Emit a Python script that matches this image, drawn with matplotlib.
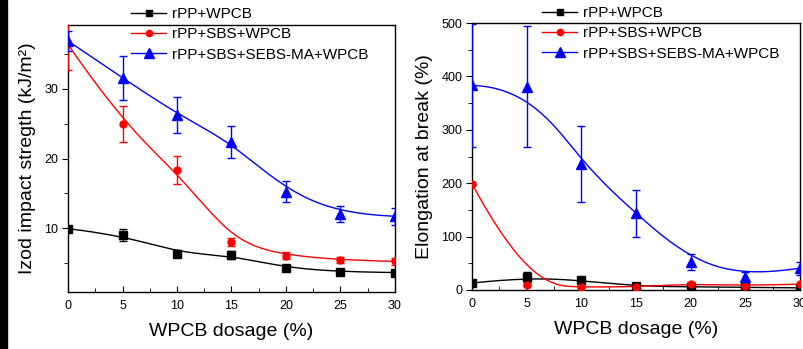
import numpy as np
import matplotlib
matplotlib.use('Agg')
import matplotlib.pyplot as plt
from matplotlib.lines import Line2D
from matplotlib.patches import Rectangle
from matplotlib.ticker import MultipleLocator

plt.rcParams['font.family'] = ['Liberation Sans', 'DejaVu Sans']
plt.rcParams['font.size'] = 10

# data
dosage = [0, 5, 10, 15, 20, 25, 30]
labels = ['rPP+WPCB', 'rPP+SBS+WPCB', 'rPP+SBS+SEBS-MA+WPCB']

impact_pp = [9.9, 9.0, 6.3, 6.1, 4.2, 3.7, 3.6]
impact_pp_err = [0.4, 0.85, 0.5, 0.6, 0.3, 0.3, 0.3]
impact_sbs = [36.4, 25.0, 18.4, 8.0, 6.0, 5.4, 5.2]
impact_sbs_err = [3.7, 2.6, 2.0, 0.6, 0.5, 0.5, 0.5]
impact_sebs = [36.9, 31.6, 26.3, 22.4, 15.2, 12.0, 11.7]
impact_sebs_err = [1.5, 3.2, 2.6, 2.3, 1.5, 1.2, 1.2]

elong_pp = [13, 24, 18, 7, 6, 5, 4]
elong_pp_err = [5, 9, 6, 3, 3, 2, 2]
elong_sbs = [199, 9, 5, 6, 12, 8, 11]
elong_sbs_err = [3, 2, 2, 2, 3, 2, 3]
elong_sebs = [383, 381, 236, 144, 53, 25, 41]
elong_sebs_err = [116, 114, 71, 44, 15, 8, 12]


def bspline(xs, ys, n=300, k=3):
    # Origin style B-spline connection: data points act as control points
    P = np.column_stack([xs, ys]).astype(float)
    m = len(P)
    t = np.concatenate([np.zeros(k), np.arange(m - k + 1), np.full(k, m - k)]).astype(float)
    u = np.linspace(0, m - k - 1e-9, n)
    N = np.array([((t[i] <= u) & (u < t[i + 1])).astype(float) for i in range(len(t) - 1)])
    for d in range(1, k + 1):
        newN = []
        for i in range(len(t) - d - 1):
            a = t[i + d] - t[i]
            b = t[i + d + 1] - t[i + 1]
            left = (u - t[i]) / a * N[i] if a > 0 else 0 * u
            right = (t[i + d + 1] - u) / b * N[i + 1] if b > 0 else 0 * u
            newN.append(left + right)
        N = np.array(newN)
    C = N.T @ P
    C = np.vstack([C, P[-1]])
    return C[:, 0], C[:, 1]


styles = [
    dict(color='black', marker='s', ms=5.5),
    dict(color='#ff0000', marker='o', ms=5),
    dict(color='#0000ff', marker='^', ms=7),
]

fig = plt.figure(figsize=(8.04, 3.49), dpi=100)
W, H = 804, 349
ax1 = fig.add_axes([68 / W, 57 / H, (395 - 68) / W, (324 - 57) / H])
ax2 = fig.add_axes([472 / W, 59 / H, (800 - 472) / W, (326 - 59) / H])


def draw(ax, series, errs):
    for s, e, st in zip(series, errs, styles):
        cx, cy = bspline(dosage, s)
        ax.plot(cx, cy, color=st['color'], lw=1.0, zorder=2)
        ax.errorbar(dosage, s, yerr=e, fmt=st['marker'], color=st['color'],
                    ms=st['ms'], elinewidth=1.0, capsize=3, capthick=1.0, zorder=3)
    ax.set_xlim(0, 30)
    ax.xaxis.set_major_locator(MultipleLocator(5))
    ax.xaxis.set_minor_locator(MultipleLocator(2.5))
    ax.tick_params(axis='x', which='both', direction='in', labelsize=9, pad=6)
    ax.tick_params(axis='x', which='major', length=4)
    ax.tick_params(axis='x', which='minor', length=3)
    ax.tick_params(axis='y', which='both', direction='out', labelsize=9, pad=3)
    ax.tick_params(axis='y', which='major', length=4)
    ax.tick_params(axis='y', which='minor', length=3)
    ax.set_xlabel('WPCB dosage (%)', fontsize=14, labelpad=8)
    for sp in ax.spines.values():
        sp.set_linewidth(1.0)


draw(ax1, [impact_pp, impact_sbs, impact_sebs], [impact_pp_err, impact_sbs_err, impact_sebs_err])
ax1.set_ylim(0.8, 39.2)
ax1.yaxis.set_major_locator(MultipleLocator(10))
ax1.yaxis.set_minor_locator(MultipleLocator(5))
ax1.set_yticks([10, 20, 30])
ax1.set_ylabel('Izod impact stregth (kJ/m²)', fontsize=14, labelpad=6)

draw(ax2, [elong_pp, elong_sbs, elong_sebs], [elong_pp_err, elong_sbs_err, elong_sebs_err])
ax2.set_ylim(0, 500)
ax2.yaxis.set_major_locator(MultipleLocator(100))
ax2.yaxis.set_minor_locator(MultipleLocator(50))
ax2.set_ylabel('Elongation at break (%)', fontsize=14, labelpad=6)

handles = [Line2D([], [], color=st['color'], marker=st['marker'], ms=st['ms'] - 0.5, lw=1.0)
           for st in styles]
leg_kw = dict(frameon=False, fontsize=11, handlelength=2.3, handletextpad=0.4,
              labelspacing=0.42, borderaxespad=0, borderpad=0, loc='upper left')
fig.legend(handles, labels, bbox_to_anchor=(131 / W, 1 - 7 / H), **leg_kw)
fig.legend(handles, labels, bbox_to_anchor=(542 / W, 1 - 6 / H), **leg_kw)

# black border strip on the left edge of the picture
fig.add_artist(Rectangle((0, 0), 7 / W, 1, transform=fig.transFigure, color='black', zorder=10))

fig.savefig('out.png', dpi=100)
